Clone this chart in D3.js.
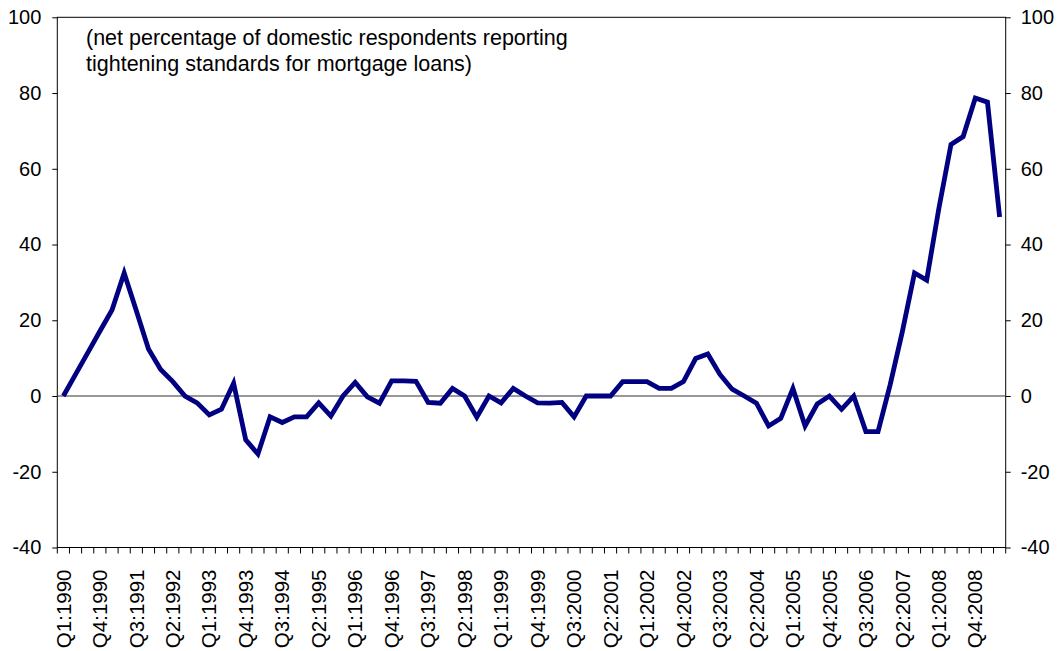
<!DOCTYPE html>
<html>
<head>
<meta charset="utf-8">
<script src="https://cdn.jsdelivr.net/npm/d3@7"></script>
<style>
  body { margin: 0; background: #fff; }
  svg text { font-family: Arial, "Liberation Sans", sans-serif; fill: #000; }
  .axis path { display: none; }
  .axis line { stroke: #000; }
</style>
</head>
<body>
<svg width="1063" height="651"></svg>
<script>
// Quarter categories, Q1:1990 .. Q2:2009
var firstYear = 1990;
var quarters = [];
for (var i = 0; i < 78; i++) {
  quarters.push('Q' + (i % 4 + 1) + ':' + (firstYear + Math.floor(i / 4)));
}

// net percentage tightening standards for mortgage loans
var netTightening = [
  0, 5.7, 11.4, 17.1, 22.7, 32.5, 22.5, 12.4, 7.0, 3.8,
  0, -1.8, -5.0, -3.5, 3.4, -11.6, -15.3, -5.5, -7.0, -5.5,
  -5.5, -1.8, -5.3, 0, 3.6, -0.2, -1.9, 4.0, 4.0, 3.9,
  -1.7, -1.9, 2.0, 0, -5.6, 0, -1.8, 2.0, 0, -1.8,
  -1.9, -1.7, -5.5, 0, 0, 0, 3.8, 3.8, 3.8, 2.0,
  2.0, 3.8, 9.9, 11.1, 5.7, 1.8, 0, -1.9, -7.9, -5.9,
  2.0, -7.9, -2.1, 0, -3.5, 0, -9.4, -9.4, 3.0, 17.0,
  32.5, 30.6, 49.5, 66.4, 68.5, 78.7, 77.6, 47.3
];

var yTicks = [-40, -20, 0, 20, 40, 60, 80, 100];
var noteLines = ['(net percentage of domestic respondents reporting',
  'tightening standards for mortgage loans)'];

var svg = d3.select('svg');
var plotL = 57.3, plotR = 1005.7, plotT = 17.3, plotB = 547.5;

var scaleX = d3.scaleBand().domain(quarters).range([plotL, plotR]).padding(0);
var scaleY = d3.scaleLinear().domain([-40, 100]).range([plotB, plotT]);
var plainNum = function(d) { return String(d); };

// plot frame
svg.append('rect')
  .attr('x', plotL).attr('y', plotT)
  .attr('width', plotR - plotL).attr('height', plotB - plotT)
  .attr('fill', 'none').attr('stroke', '#000').attr('stroke-width', 1);

// zero line
svg.append('line')
  .attr('x1', plotL).attr('x2', plotR)
  .attr('y1', scaleY(0)).attr('y2', scaleY(0))
  .attr('stroke', '#333').attr('stroke-width', 1.2);

// y axes both sides
svg.append('g').attr('class', 'axis')
  .attr('transform', 'translate(' + plotL + ',0)')
  .call(d3.axisLeft(scaleY).tickValues(yTicks).tickFormat(plainNum).tickSize(5).tickPadding(11))
  .selectAll('text').style('font-size', '20px');
svg.append('g').attr('class', 'axis')
  .attr('transform', 'translate(' + plotR + ',0)')
  .call(d3.axisRight(scaleY).tickValues(yTicks).tickFormat(plainNum).tickSize(5).tickPadding(10))
  .selectAll('text').style('font-size', '20px');

// x tick marks between every category
svg.append('g').selectAll('line')
  .data(quarters.concat(['end']))
  .enter().append('line')
  .attr('x1', function(d) { return d === 'end' ? plotR : scaleX(d); })
  .attr('x2', function(d) { return d === 'end' ? plotR : scaleX(d); })
  .attr('y1', plotB).attr('y2', plotB + 6)
  .attr('stroke', '#000');

// x labels every third quarter
var xAxis = svg.append('g').attr('class', 'axis')
  .attr('transform', 'translate(0,' + plotB + ')')
  .call(d3.axisBottom(scaleX)
    .tickValues(quarters.filter(function(d, i) { return i % 3 === 0; }))
    .tickSize(0));
xAxis.selectAll('line').remove();
xAxis.selectAll('text')
  .style('font-size', '20.5px')
  .attr('text-anchor', 'end')
  .attr('transform', 'rotate(-90)')
  .attr('x', -22)
  .attr('y', 0)
  .attr('dy', '0.35em');

// series line
var line = d3.line()
  .x(function(d, i) { return scaleX(quarters[i]) + scaleX.bandwidth() / 2; })
  .y(function(d) { return scaleY(d); });

svg.append('path')
  .datum(netTightening)
  .attr('d', line)
  .attr('fill', 'none')
  .attr('stroke', '#000080')
  .attr('stroke-width', 4.8)
  .attr('stroke-linejoin', 'miter');

// note text
svg.append('text')
  .attr('y', 45)
  .style('font-size', '21.5px')
  .selectAll('tspan')
  .data(noteLines)
  .enter().append('tspan')
  .attr('x', 86)
  .attr('dy', function(d, i) { return i === 0 ? 0 : 26; })
  .text(function(d) { return d; });
</script>
</body>
</html>
